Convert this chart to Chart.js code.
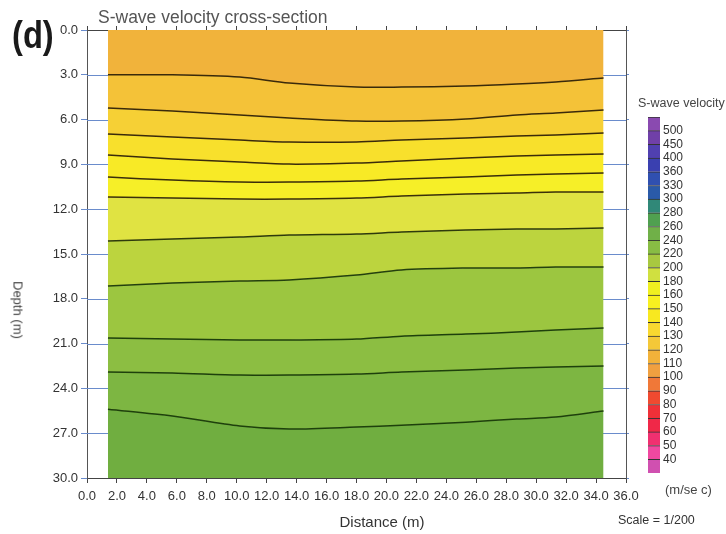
<!DOCTYPE html>
<html><head><meta charset="utf-8">
<script src="https://cdn.jsdelivr.net/npm/chart.js@4"></script>
<style>
html,body{margin:0;padding:0;background:#fff;}
#wrap{position:relative;width:726px;height:534px;overflow:hidden;font-family:"Liberation Sans",Arial,sans-serif;}
#main{position:absolute;left:0;top:0;}
#bar{position:absolute;left:648px;top:117px;}
.t{position:absolute;white-space:nowrap;line-height:1;transform:translateY(-50%);}
</style></head><body>
<div id="wrap">
<canvas id="main" width="726" height="534"></canvas>
<canvas id="bar" width="62" height="356"></canvas>
<div class="t" style="left:12px;top:35px;font-weight:bold;font-size:38px;font-family:'Liberation Sans',sans-serif;color:#1a1a1a;transform-origin:left center;transform:translateY(-50%) scaleX(0.86);">(d)</div>
<div class="t" style="left:98px;top:18px;font-size:17.5px;color:#555">S-wave velocity cross-section</div>
<div class="t" style="left:18px;top:310px;font-size:13px;color:#444;transform:translate(-50%,-50%) rotate(90deg);">Depth (m)</div>
<div class="t" style="left:382px;top:521px;font-size:15px;color:#333;transform:translate(-50%,-50%);">Distance (m)</div>
<div class="t" style="left:638px;top:103px;font-size:12.5px;color:#444">S-wave velocity</div>
<div class="t" style="left:665px;top:489px;font-size:13px;color:#444">(m/se c)</div>
<div class="t" style="left:618px;top:520px;font-size:12.5px;color:#333">Scale = 1/200</div>
</div>
<script>
// ---- data ----
const distances = [1.4, 5.7, 10.2, 13.5, 18.0, 21.0, 25.3, 28.7, 31.3, 34.5];
const contour1  = [3.00, 3.00, 3.15, 3.55, 3.82, 3.82, 3.75, 3.62, 3.48, 3.22];
const contour2  = [5.22, 5.43, 5.69, 5.89, 6.10, 6.10, 5.96, 5.69, 5.56, 5.36];
const contour3  = [6.97, 7.17, 7.37, 7.50, 7.50, 7.37, 7.23, 7.10, 7.03, 6.90];
const contour4  = [8.37, 8.64, 8.84, 8.98, 8.91, 8.77, 8.57, 8.44, 8.37, 8.31];
const contour5  = [9.85, 10.05, 10.18, 10.18, 10.11, 9.98, 9.85, 9.71, 9.65, 9.58];
const contour6  = [11.19, 11.25, 11.32, 11.32, 11.25, 11.12, 10.98, 10.92, 10.85, 10.85];
const contour7  = [14.13, 14.00, 13.86, 13.73, 13.66, 13.53, 13.40, 13.33, 13.33, 13.26];
const contour8  = [17.15, 16.95, 16.81, 16.74, 16.41, 16.07, 15.94, 15.94, 15.87, 15.87];
const contour9  = [20.63, 20.70, 20.76, 20.76, 20.70, 20.50, 20.36, 20.23, 20.09, 19.96];
const contour10 = [22.91, 22.97, 23.11, 23.11, 23.04, 22.91, 22.77, 22.64, 22.57, 22.50];
const contour11 = [25.39, 25.85, 26.52, 26.72, 26.59, 26.46, 26.26, 26.05, 25.92, 25.52];
const depthTop = 0, depthBottom = 30;
const legendLabels = ['40','50','60','70','80','90','100','110','120','130','140','150','160','180','200','220','240','260','280','300','330','360','400','450','500'];

// ---- styles ----
const bandColors = ['#f1b33b','#f4c238','#f6d035','#f8e02c','#f8ea26','#f6ef28','#e0e342','#bcd43e','#9cc640','#8cbe42','#7db642','#70ae40'];
const lineColors = ['#3a2a0a','#3a2a0a','#3a2a0a','#3a2c0a','#3a2e0a','#3a300a','#2e3a0c','#24400e','#1e400c','#1e400c','#1e400c'];
const legendColors = ['#d050b0','#f048a0','#f03070','#f02848','#f03038','#f04a30','#f07838','#f0a040','#f2b23a','#f4c838','#f8d830','#f8e820','#f8f020','#f0f020','#d0e040','#a8c840','#88bc44','#70b048','#50a050','#308878','#2a5aa8','#3050b0','#3a40b0','#5040b0','#7040a8','#8a4ab0'];

const FONT = '"Liberation Sans", Arial, sans-serif';
Chart.defaults.font.family = FONT;

const contours = [contour1,contour2,contour3,contour4,contour5,contour6,contour7,contour8,contour9,contour10,contour11];
const datasets = [];
datasets.push({data: distances.map(x => ({x, y: depthTop})), borderWidth: 0, pointRadius: 0, fill: false});
contours.forEach((c, i) => datasets.push({
  data: distances.map((x, j) => ({x, y: c[j]})),
  borderColor: lineColors[i], borderWidth: 1.5, pointRadius: 0, tension: 0.3,
  fill: '-1', backgroundColor: bandColors[i]
}));
datasets.push({data: distances.map(x => ({x, y: depthBottom})), borderWidth: 0, pointRadius: 0, fill: '-1', backgroundColor: bandColors[11]});

const gapTicks = {
  id: 'gapTicks',
  beforeDatasetsDraw(chart) {
    const {ctx, chartArea: a, scales} = chart;
    ctx.save(); ctx.strokeStyle = '#6a8ccc'; ctx.lineWidth = 1;
    const draw = (sc, x0, x1) => sc.ticks.forEach(t => {
      if (t.value <= sc.min || t.value >= sc.max) return;
      const p = Math.round(sc.getPixelForValue(t.value)) + 0.5;
      ctx.beginPath(); ctx.moveTo(x0, p); ctx.lineTo(x1, p); ctx.stroke();
    });
    draw(scales.y, a.left, a.left + 24);
    draw(scales.y2, a.right - 24, a.right);
    ctx.restore();
  }
};

new Chart(document.getElementById('main'), {
  type: 'line',
  data: {datasets},
  plugins: [gapTicks],
  options: {
    responsive: false, animation: false,
    layout: {padding: 0},
    plugins: {legend: {display: false}, tooltip: {enabled: false}},
    scales: {
      x: {type: 'linear', position: 'bottom', min: 0, max: 36,
          afterFit(s) { s.height = 56; },
          ticks: {stepSize: 2, autoSkip: false, maxRotation: 0, padding: 6, color: '#333', font: {size: 13}, callback: v => v.toFixed(1)},
          grid: {drawOnChartArea: false, tickLength: 5, color: '#444'},
          border: {color: '#444'}},
      x2: {type: 'linear', position: 'top', min: 0, max: 36,
          afterFit(s) { s.height = 30; },
          ticks: {display: false, stepSize: 2},
          grid: {drawOnChartArea: false, tickLength: 4, color: '#444'},
          border: {color: '#444'}},
      y: {type: 'linear', position: 'left', reverse: true, min: 0, max: 30,
          afterFit(s) { s.width = 87; },
          ticks: {stepSize: 3, padding: 3, color: '#333', font: {size: 13}, callback: v => v.toFixed(1)},
          grid: {drawOnChartArea: false, tickLength: 6, color: '#6a8ccc'},
          border: {color: '#555'}},
      y2: {type: 'linear', position: 'right', reverse: true, min: 0.35, max: 30.35,
          afterFit(s) { s.width = 100; },
          ticks: {display: false, stepSize: 3, includeBounds: false},
          grid: {drawOnChartArea: false, tickLength: 3, color: '#6a8ccc'},
          border: {color: '#555'}}
    }
  }
});

new Chart(document.getElementById('bar'), {
  type: 'bar',
  data: {labels: [''], datasets: legendColors.map(c => ({
    data: [1], backgroundColor: c, borderColor: '#333',
    borderWidth: {top: 1, bottom: 0, left: 0, right: 0}, borderSkipped: false,
    stack: 's', barPercentage: 1, categoryPercentage: 1
  }))},
  options: {
    responsive: false, animation: false,
    layout: {padding: 0},
    plugins: {legend: {display: false}, tooltip: {enabled: false}},
    scales: {
      x: {display: false, stacked: true},
      y: {stacked: true, position: 'right', min: 0, max: 26,
          afterFit(s) { s.width = 50; s.paddingTop = 0; s.paddingBottom = 0; },
          afterBuildTicks(s) { s.ticks = legendLabels.map((l, i) => ({value: i + 1})); },
          ticks: {autoSkip: false, padding: 3, color: '#333', font: {size: 12}, callback: v => legendLabels[v - 1]},
          grid: {display: false, drawTicks: false},
          border: {display: false}}
    }
  }
});
</script>
</body></html>
